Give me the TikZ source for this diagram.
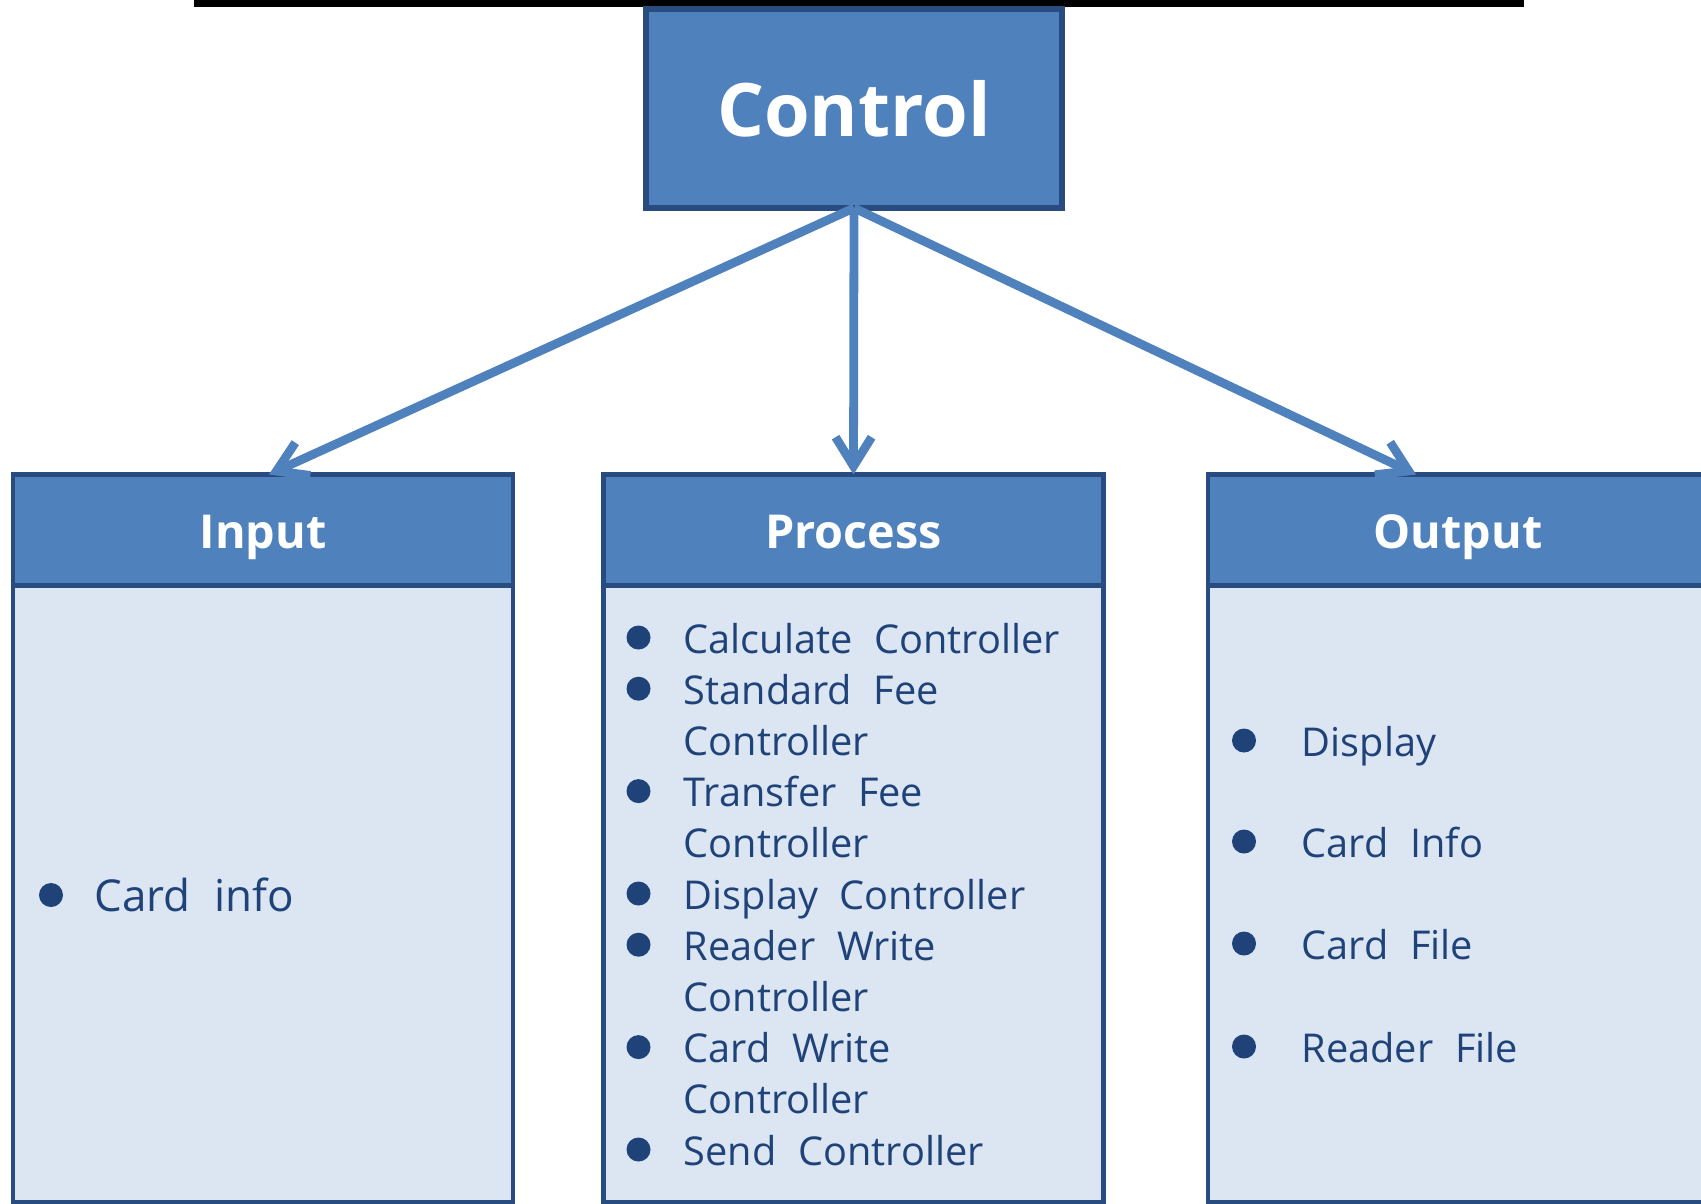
\documentclass[tikz,border=0pt]{standalone}
\usepackage{fontspec}
\setmainfont{Open Sans}[WordSpace=2.1]
\usetikzlibrary{arrows.meta, positioning}
\definecolor{boxblue}{HTML}{4F81BD}
\definecolor{edgeblue}{HTML}{284C80}
\definecolor{paleblue}{HTML}{DCE6F2}
\definecolor{inkblue}{HTML}{1F4279}
\tikzset{
  head/.style={draw=edgeblue, line width=1.4pt, outer sep=0pt, fill=boxblue, text=white,
    font=\bfseries\fontsize{13.3}{16}\selectfont, text height=0.36cm, text depth=0pt,
    minimum width=5cm, minimum height=1.11cm, inner sep=0pt},
  body/.style={draw=edgeblue, line width=1.4pt, outer sep=0pt, fill=paleblue, minimum width=5cm,
    minimum height=6.17cm, inner sep=0pt},
  item/.style={anchor=base west, inner sep=0pt, text=inkblue, font=\fontsize{11.3}{13}\selectfont},
  bul/.style={circle, fill=inkblue, minimum size=0.24cm, inner sep=0pt},
  arr/.style={draw=boxblue, line width=2.5pt, -{Straight Barb[length=2.9mm, width=3.6mm]}}
}

\begin{document}
\begin{tikzpicture}
	\useasboundingbox (0,0) rectangle (17.01,-12.03);
	% Black strip along the top edge
	\fill[black] (1.94,0) rectangle (15.24,-0.07);
	
	% Control box
	\node[head, font=\bfseries\fontsize{21}{26}\selectfont, text height=0.56cm, minimum width=4.16cm, minimum height=1.99cm, line width=1.6pt] (ctrl) at (8.54,-1.085) {Control};
	
	% Headers and bodies of the three columns
	\node[head] (inhead) at (2.63,-5.30) {Input};
	\node[head] (prochead) at (8.535,-5.30) {Process};
	\node[head] (outhead) at (14.58,-5.30) {Output};
	\node[body, below=0pt of inhead] (inbody) {};
	\node[body, below=0pt of prochead] (procbody) {};
	\node[body, below=0pt of outhead] (outbody) {};
	
	% Arrows from Control
	\draw[arr] (ctrl.south) -- (inhead.84);
	\draw[arr] (ctrl.south) -- (prochead.north);
	\draw[arr] (ctrl.south) -- (outhead.127);
	
	% Input list
	\node[bul] (ib1) at (0.51,-8.95) {};
	\node[item, font=\fontsize{12.5}{15}\selectfont] (i1) at (0.94,-9.11) {Card info};
	
	% Process list
	\node[bul] (pb1) at (6.385,-6.375) {};
	\node[item] (p1) at (6.83,-6.530) {Calculate Controller};
	\node[bul] (pb2) at (6.385,-6.887) {};
	\node[item] (p2) at (6.83,-7.042) {Standard Fee};
	\node[item] (p2b) at (6.83,-7.554) {Controller};
	\node[bul] (pb3) at (6.385,-7.911) {};
	\node[item] (p3) at (6.83,-8.066) {Transfer Fee};
	\node[item] (p3b) at (6.83,-8.578) {Controller};
	\node[bul] (pb4) at (6.385,-8.935) {};
	\node[item] (p4) at (6.83,-9.090) {Display Controller};
	\node[bul] (pb5) at (6.385,-9.447) {};
	\node[item] (p5) at (6.83,-9.602) {Reader Write};
	\node[item] (p5b) at (6.83,-10.114) {Controller};
	\node[bul] (pb6) at (6.385,-10.471) {};
	\node[item] (p6) at (6.83,-10.626) {Card Write};
	\node[item] (p6b) at (6.83,-11.138) {Controller};
	\node[bul] (pb7) at (6.385,-11.495) {};
	\node[item] (p7) at (6.83,-11.650) {Send Controller};
	
	% Output list
	\node[bul] (ob1) at (12.44,-7.405) {};
	\node[item] (o1) at (13.01,-7.56) {Display};
	\node[bul] (ob2) at (12.44,-8.415) {};
	\node[item] (o2) at (13.01,-8.57) {Card Info};
	\node[bul] (ob3) at (12.44,-9.435) {};
	\node[item] (o3) at (13.01,-9.59) {Card File};
	\node[bul] (ob4) at (12.44,-10.465) {};
	\node[item] (o4) at (13.01,-10.62) {Reader File};
\end{tikzpicture}
\end{document}
